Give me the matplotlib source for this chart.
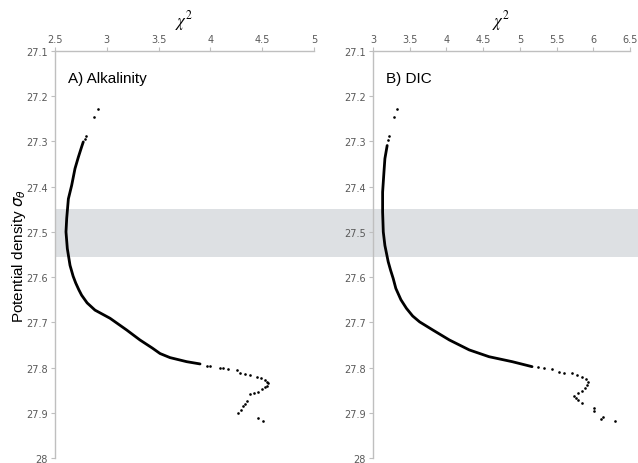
import matplotlib
matplotlib.use("Agg")
from matplotlib import pyplot as plt
from matplotlib.patches import Rectangle
from matplotlib.transforms import blended_transform_factory

# sigma-theta ticks (y axis, reversed)
sigma_ticks = [27.1, 27.2, 27.3, 27.4, 27.5, 27.6, 27.7, 27.8, 27.9, 28.0]
sigma_labels = ["27.1", "27.2", "27.3", "27.4", "27.5", "27.6", "27.7", "27.8", "27.9", "28"]

# chi^2 ticks (top x axis)
alk_ticks = [2.5, 3, 3.5, 4, 4.5, 5]
alk_labels = ["2.5", "3", "3.5", "4", "4.5", "5"]
dic_ticks = [3, 3.5, 4, 4.5, 5, 5.5, 6, 6.5]
dic_labels = ["3", "3.5", "4", "4.5", "5", "5.5", "6", "6.5"]

# shaded density band
band = (27.45, 27.555)

# A) Alkalinity - dense part of the profile
alk_chi2 = [2.773, 2.757, 2.725, 2.693, 2.661, 2.629, 2.613, 2.606, 2.619, 2.645,
            2.675, 2.700, 2.730, 2.757, 2.810, 2.886, 3.031, 3.192, 3.320, 3.440, 3.514, 3.610, 3.771, 3.900]
alk_sigma = [27.301, 27.312, 27.335, 27.360, 27.397, 27.427, 27.470, 27.500, 27.537, 27.574,
             27.598, 27.613, 27.628, 27.640, 27.657, 27.673, 27.691, 27.717, 27.739, 27.757, 27.769, 27.778, 27.787, 27.792]
# sparse points (top and tail)
alk_dot_chi2 = [2.918, 2.880, 2.800, 2.785, 3.964, 4.000, 4.093, 4.125, 4.170, 4.254, 4.286, 4.330,
                4.380, 4.447, 4.490, 4.527, 4.550, 4.559, 4.545, 4.527, 4.495, 4.462, 4.420,
                4.382, 4.350, 4.335, 4.318, 4.295, 4.270, 4.462, 4.510]
alk_dot_sigma = [27.228, 27.246, 27.289, 27.295, 27.796, 27.797, 27.800, 27.801, 27.803, 27.805, 27.813, 27.815,
                 27.817, 27.820, 27.823, 27.827, 27.831, 27.835, 27.840, 27.844, 27.848, 27.853, 27.856,
                 27.859, 27.875, 27.880, 27.886, 27.893, 27.900, 27.912, 27.919]

# B) DIC - dense part of the profile
dic_chi2 = [3.193, 3.162, 3.149, 3.131, 3.131, 3.140, 3.162, 3.207, 3.240, 3.275, 3.311, 3.380, 3.455,
            3.540, 3.635, 3.815, 4.040, 4.311, 4.580, 4.896, 5.166]
dic_sigma = [27.309, 27.338, 27.368, 27.412, 27.456, 27.500, 27.530, 27.566, 27.585, 27.603, 27.625, 27.650, 27.669,
             27.686, 27.699, 27.717, 27.739, 27.761, 27.776, 27.787, 27.798]
# sparse points (top and tail)
dic_dot_chi2 = [3.329, 3.284, 3.216, 3.205, 5.250, 5.330, 5.436, 5.527, 5.600, 5.707, 5.780, 5.842,
                5.900, 5.932, 5.910, 5.887, 5.840, 5.797, 5.743, 5.770, 5.797, 5.842, 6.014, 6.014,
                6.110, 6.135, 6.293]
dic_dot_sigma = [27.228, 27.246, 27.288, 27.296, 27.799, 27.801, 27.803, 27.809, 27.811, 27.813, 27.816, 27.820,
                 27.825, 27.831, 27.838, 27.846, 27.852, 27.857, 27.864, 27.867, 27.871, 27.879, 27.890, 27.896,
                 27.913, 27.910, 27.918]

grey = "#bfbfbf"
tick_grey = "#595959"

fig = plt.figure(figsize=(6.38, 4.64), dpi=100)

# axes in pixel-matched positions
ax1 = fig.add_axes([55 / 638, 5 / 464, 259 / 638, 407 / 464])
ax2 = fig.add_axes([373 / 638, 5 / 464, 257 / 638, 407 / 464])

panels = [
    (ax1, alk_chi2, alk_sigma, alk_dot_chi2, alk_dot_sigma, alk_ticks, alk_labels, "A) Alkalinity"),
    (ax2, dic_chi2, dic_sigma, dic_dot_chi2, dic_dot_sigma, dic_ticks, dic_labels, "B) DIC"),
]

for ax, x, y, dx, dy, xt, xl, title in panels:
    ax.set_facecolor("none")
    ax.plot(x, y, color="black", lw=2.0, solid_capstyle="round", solid_joinstyle="round", zorder=3)
    ax.plot(dx, dy, "o", color="black", ms=1.9, mew=0, zorder=3)

    ax.set_xlim(xt[0], xt[-1])
    ax.set_ylim(28.0, 27.1)
    ax.xaxis.tick_top()
    ax.set_xticks(xt)
    ax.set_xticklabels(xl)
    ax.set_yticks(sigma_ticks)
    ax.set_yticklabels(sigma_labels)
    ax.tick_params(axis="both", labelsize=7, colors=grey, labelcolor=tick_grey,
                   length=3, width=0.8, pad=2)
    for s in ["right", "bottom"]:
        ax.spines[s].set_visible(False)
    for s in ["left", "top"]:
        ax.spines[s].set_color(grey)
        ax.spines[s].set_linewidth(1.0)

    ax.set_xlabel(r"$\chi^2$", fontsize=12, math_fontfamily="stix", labelpad=6)
    ax.xaxis.set_label_position("top")
    ax.text(0.05, 0.95, title, transform=ax.transAxes, fontsize=11,
            family="Liberation Sans", va="top", ha="left")

ax1.set_ylabel(r"Potential density $\sigma_\theta$", fontsize=11,
               family="Liberation Sans", labelpad=-1)

# grey band across both panels
trans = blended_transform_factory(fig.transFigure, ax1.transData)
fig.patches.append(Rectangle((55 / 638, band[0]), 1 - 55 / 638, band[1] - band[0],
                             transform=trans, facecolor="#dde0e3", edgecolor="none", zorder=-1))

fig.savefig("out.png", dpi=100)
